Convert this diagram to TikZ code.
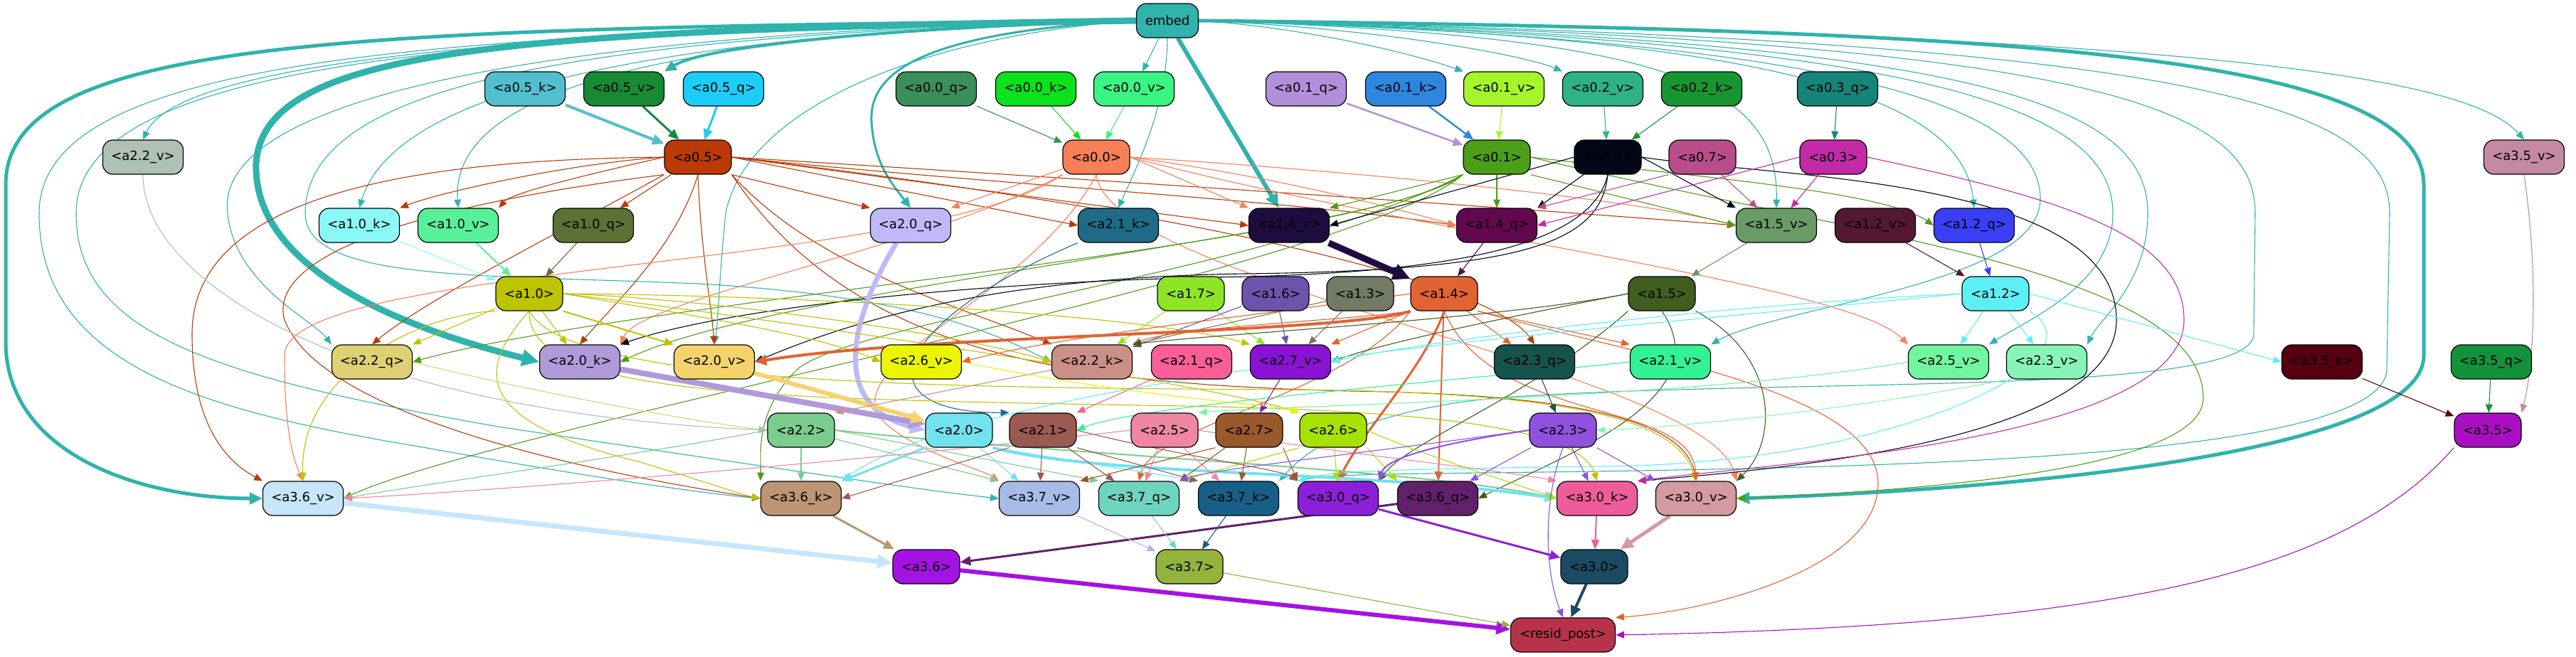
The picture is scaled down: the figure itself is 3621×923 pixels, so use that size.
\documentclass[tikz,border=0pt]{standalone}
\usepackage{fontspec}
\setmainfont{DejaVu Sans}
\usetikzlibrary{arrows.meta,backgrounds}
\definecolor{cembed}{HTML}{2FB3AC}
\definecolor{ca05k}{HTML}{52BFCF}\definecolor{ca05v}{HTML}{178A35}\definecolor{ca05q}{HTML}{1CCEF7}
\definecolor{ca00q}{HTML}{3B8F5A}\definecolor{ca00k}{HTML}{0AE21C}\definecolor{ca00v}{HTML}{3AF584}
\definecolor{ca01q}{HTML}{B18FD9}\definecolor{ca01k}{HTML}{2E86DE}\definecolor{ca01v}{HTML}{A6F52A}
\definecolor{ca02v}{HTML}{2FB386}\definecolor{ca02k}{HTML}{169631}\definecolor{ca03q}{HTML}{168478}
\definecolor{ca22v}{HTML}{AFC1B4}\definecolor{ca05}{HTML}{BC3A05}\definecolor{ca00}{HTML}{F77F56}
\definecolor{ca01}{HTML}{4C9E17}\definecolor{ca02}{HTML}{030717}\definecolor{ca07}{HTML}{B84D8A}
\definecolor{ca03}{HTML}{C32AA8}\definecolor{ca35v}{HTML}{C58AA3}\definecolor{ca10k}{HTML}{8BF8F8}
\definecolor{ca10v}{HTML}{59F09A}\definecolor{ca10q}{HTML}{5A7335}\definecolor{ca20q}{HTML}{C0B8F8}
\definecolor{ca21k}{HTML}{1F6B87}\definecolor{ca14v}{HTML}{1F0C3F}\definecolor{ca14q}{HTML}{62084E}
\definecolor{ca15v}{HTML}{6A9A66}\definecolor{ca12v}{HTML}{541832}\definecolor{ca12q}{HTML}{3A3FF5}
\definecolor{ca10}{HTML}{BDC400}\definecolor{ca17}{HTML}{8EE525}\definecolor{ca16}{HTML}{6E53AD}
\definecolor{ca13}{HTML}{737A65}\definecolor{ca14}{HTML}{E06332}\definecolor{ca15}{HTML}{3F5E1F}
\definecolor{ca12}{HTML}{5EEFF5}\definecolor{ca22q}{HTML}{DFD173}\definecolor{ca20k}{HTML}{B09AD9}
\definecolor{ca20v}{HTML}{F5D36B}\definecolor{ca26v}{HTML}{EBF503}\definecolor{ca22k}{HTML}{C99088}
\definecolor{ca21q}{HTML}{F75F96}\definecolor{ca27v}{HTML}{8A12D3}\definecolor{ca23q}{HTML}{17534D}
\definecolor{ca21v}{HTML}{33F294}\definecolor{ca25v}{HTML}{71F5A0}\definecolor{ca23v}{HTML}{88F5B7}
\definecolor{ca35k}{HTML}{560011}\definecolor{ca35q}{HTML}{12923B}\definecolor{ca22}{HTML}{7ACD8E}
\definecolor{ca20}{HTML}{72E2EF}\definecolor{ca21}{HTML}{9A5A52}\definecolor{ca25}{HTML}{EF87A4}
\definecolor{ca27}{HTML}{9A592A}\definecolor{ca26}{HTML}{A6E205}\definecolor{ca23}{HTML}{9051DE}
\definecolor{ca35}{HTML}{A90FC1}\definecolor{ca36v}{HTML}{C7E6FB}\definecolor{ca36k}{HTML}{BD9572}
\definecolor{ca37v}{HTML}{A6BCE6}\definecolor{ca37q}{HTML}{6FD4BF}\definecolor{ca37k}{HTML}{175F86}
\definecolor{ca30q}{HTML}{8C1FD8}\definecolor{ca36q}{HTML}{62206A}\definecolor{ca30k}{HTML}{EF5C9C}
\definecolor{ca30v}{HTML}{D39B9F}\definecolor{ca36}{HTML}{A412E3}\definecolor{ca37}{HTML}{92B33C}
\definecolor{ca30}{HTML}{1B4B63}\definecolor{crp}{HTML}{B8334A}
\newcommand\N[5]{\node[nd,fill=c#1,#5] (#1) at (#2,-#3) {#4};}
\tikzset{
  nd/.style={draw=black,line width=0.6pt,rounded corners=7pt,minimum height=24pt,minimum width=56.5pt,inner sep=0pt,font=\fontsize{9}{11}\selectfont},
  ns/.style={minimum width=47pt},
  ed/.style={-{Triangle[length=5pt 1.6,width=4pt 1.6]},line width=0.55pt},
}
\begin{document}
\begin{tikzpicture}[x=0.5pt,y=0.5pt]
\useasboundingbox (0,0) rectangle (3621,-923);
% nodes
\N{embed}{1641}{29}{embed}{minimum width=43.5pt}
\N{a05k}{738}{125}{<a0.5\_k>}{}
\N{a05v}{877}{125}{<a0.5\_v>}{}
\N{a05q}{1017}{125}{<a0.5\_q>}{}
\N{a00q}{1316}{125}{<a0.0\_q>}{}
\N{a00k}{1456}{125}{<a0.0\_k>}{}
\N{a00v}{1594}{125}{<a0.0\_v>}{}
\N{a01q}{1836}{125}{<a0.1\_q>}{}
\N{a01k}{1976}{125}{<a0.1\_k>}{}
\N{a01v}{2114}{125}{<a0.1\_v>}{}
\N{a02v}{2253}{125}{<a0.2\_v>}{}
\N{a02k}{2392}{125}{<a0.2\_k>}{}
\N{a03q}{2583}{125}{<a0.3\_q>}{}
\N{a22v}{201}{221}{<a2.2\_v>}{}
\N{a05}{981}{221}{<a0.5>}{ns}
\N{a00}{1541}{221}{<a0.0>}{ns}
\N{a01}{2104}{221}{<a0.1>}{ns}
\N{a02}{2260}{221}{<a0.2>}{ns}
\N{a07}{2393}{221}{<a0.7>}{ns}
\N{a03}{2577}{221}{<a0.3>}{ns}
\N{a35v}{3548}{221}{<a3.5\_v>}{}
\N{a10k}{505}{317}{<a1.0\_k>}{}
\N{a10v}{644}{317}{<a1.0\_v>}{}
\N{a10q}{834}{317}{<a1.0\_q>}{}
\N{a20q}{1280}{317}{<a2.0\_q>}{}
\N{a21k}{1572}{317}{<a2.1\_k>}{}
\N{a14v}{1812}{317}{<a1.4\_v>}{}
\N{a14q}{2104}{317}{<a1.4\_q>}{}
\N{a15v}{2497}{317}{<a1.5\_v>}{}
\N{a12v}{2636}{317}{<a1.2\_v>}{}
\N{a12q}{2775}{317}{<a1.2\_q>}{}
\N{a10}{744}{413}{<a1.0>}{ns}
\N{a17}{1674}{413}{<a1.7>}{ns}
\N{a16}{1793}{413}{<a1.6>}{ns}
\N{a13}{1912}{413}{<a1.3>}{ns}
\N{a14}{2030}{413}{<a1.4>}{ns}
\N{a15}{2336}{413}{<a1.5>}{ns}
\N{a12}{2805}{413}{<a1.2>}{ns}
\N{a22q}{523}{509}{<a2.2\_q>}{}
\N{a20k}{815}{509}{<a2.0\_k>}{}
\N{a20v}{1004}{509}{<a2.0\_v>}{}
\N{a26v}{1295}{509}{<a2.6\_v>}{}
\N{a22k}{1535}{509}{<a2.2\_k>}{}
\N{a21q}{1675}{509}{<a2.1\_q>}{}
\N{a27v}{1814}{509}{<a2.7\_v>}{}
\N{a23q}{2157}{509}{<a2.3\_q>}{}
\N{a21v}{2348}{509}{<a2.1\_v>}{}
\N{a25v}{2739}{509}{<a2.5\_v>}{}
\N{a23v}{2877}{509}{<a2.3\_v>}{}
\N{a35k}{3264}{509}{<a3.5\_k>}{}
\N{a35q}{3502}{509}{<a3.5\_q>}{}
\N{a22}{1126}{605}{<a2.2>}{ns}
\N{a20}{1348}{605}{<a2.0>}{ns}
\N{a21}{1466}{605}{<a2.1>}{ns}
\N{a25}{1637}{605}{<a2.5>}{ns}
\N{a27}{1756}{605}{<a2.7>}{ns}
\N{a26}{1874}{605}{<a2.6>}{ns}
\N{a23}{2197}{605}{<a2.3>}{ns}
\N{a35}{3497}{605}{<a3.5>}{ns}
\N{a36v}{426}{701}{<a3.6\_v>}{}
\N{a36k}{1126}{701}{<a3.6\_k>}{}
\N{a37v}{1461}{701}{<a3.7\_v>}{}
\N{a37q}{1601}{701}{<a3.7\_q>}{}
\N{a37k}{1741}{701}{<a3.7\_k>}{}
\N{a30q}{1881}{701}{<a3.0\_q>}{}
\N{a36q}{2021}{701}{<a3.6\_q>}{}
\N{a30k}{2245}{701}{<a3.0\_k>}{}
\N{a30v}{2384}{701}{<a3.0\_v>}{}
\N{a36}{1302}{797}{<a3.6>}{ns}
\N{a37}{1672}{797}{<a3.7>}{ns}
\N{a30}{2241}{797}{<a3.0>}{ns}
\N{rp}{2197}{893}{<resid\_post>}{minimum width=73.5pt}
\begin{pgfonlayer}{background}
\fill[white] (0,0) rectangle (3621,-923);
% ---- embed edges
\draw[ed,cembed,line width=2pt] (embed.west) .. controls (1300,-38) and (1000,-60) .. (a05v.north east);
\draw[ed,cembed,line width=4.5pt] (embed.west) .. controls (700,-42) and (370,-70) .. (360,-230) .. controls (355,-390) and (600,-470) .. (a20k.west);
\draw[ed,cembed,line width=2.5pt] (embed.west) .. controls (500,-40) and (8,-50) .. (8,-260) -- (8,-480) .. controls (8,-640) and (200,-701) .. (a36v.west);
\draw[ed,cembed,line width=2.5pt] (embed.east) .. controls (2800,-42) and (3407,-70) .. (3407,-260) -- (3407,-500) .. controls (3407,-640) and (2800,-690) .. (a30v.east);
\draw[ed,cembed,line width=3pt] (embed) -- (a14v);
\draw[ed,cembed,line width=1.5pt] (embed.west) .. controls (1300,-45) and (1222,-100) .. (1225,-170) .. controls (1228,-230) and (1255,-260) .. (a20q.north);
\draw[ed,cembed] (embed) -- (a00v);
\draw[ed,cembed] (embed.south) .. controls (1640,-150) and (1600,-230) .. (a21k.north);
\draw[ed,cembed] (embed.east) .. controls (1850,-40) and (2000,-80) .. (a01v.north west);
\draw[ed,cembed] (embed.east) .. controls (1950,-40) and (2150,-80) .. (a02v.north west);
\draw[ed,cembed] (embed.east) .. controls (2350,-50) and (2500,-120) .. (a15v.north);
\draw[ed,cembed] (embed.east) .. controls (2550,-50) and (2760,-150) .. (a12q.north);
\draw[ed,cembed] (embed.east) .. controls (3200,-45) and (3480,-120) .. (a35v.north);
\draw[ed,cembed] (embed.west) .. controls (900,-40) and (260,-70) .. (a22v.north);
\draw[ed,cembed] (embed.west) .. controls (1000,-45) and (560,-110) .. (a10k.north);
\draw[ed,cembed] (embed.west) .. controls (1100,-45) and (630,-90) .. (a10v.north);
\draw[ed,cembed] (embed.west) .. controls (700,-45) and (300,-150) .. (320,-300) .. controls (330,-400) and (440,-450) .. (a22q.north west);
\draw[ed,cembed] (embed.west) .. controls (800,-50) and (430,-120) .. (429,-300) .. controls (430,-400) and (700,-385) .. (1000,-400) .. controls (1300,-420) and (1400,-470) .. (a22k.west);
\draw[ed,cembed] (embed.west) .. controls (1300,-50) and (1050,-150) .. (1020,-300) .. controls (1010,-400) and (1010,-450) .. (a20v.north);
\draw[ed,cembed] (embed.west) .. controls (600,-45) and (55,-80) .. (55,-300) .. controls (55,-520) and (300,-580) .. (600,-630) .. controls (850,-675) and (1000,-695) .. (a36k.west);
\draw[ed,cembed] (embed.west) .. controls (700,-45) and (107,-80) .. (107,-300) .. controls (107,-470) and (300,-530) .. (700,-600) .. controls (1100,-660) and (1300,-690) .. (a37v.west);
\draw[ed,cembed] (embed.east) .. controls (2600,-55) and (2868,-150) .. (2868,-280) .. controls (2868,-400) and (2500,-430) .. (a21v.north east);
\draw[ed,cembed] (embed.east) .. controls (2700,-55) and (2970,-150) .. (2970,-300) .. controls (2970,-400) and (2850,-450) .. (a25v.north east);
\draw[ed,cembed] (embed.east) .. controls (2800,-55) and (3019,-150) .. (3019,-300) .. controls (3019,-400) and (2950,-450) .. (a23v.north east);
\draw[ed,cembed] (embed.east) .. controls (2950,-55) and (3170,-150) .. (3170,-300) -- (3168,-470) .. controls (3165,-560) and (2500,-530) .. (2100,-560) .. controls (1900,-580) and (1830,-640) .. (a37k.north east);
\draw[ed,cembed] (embed.east) .. controls (3100,-55) and (3359,-150) .. (3359,-300) -- (3355,-520) .. controls (3350,-640) and (2700,-655) .. (2300,-662) .. controls (2000,-667) and (1880,-665) .. (a30q.north west);
% ---- row1 -> row2
\draw[ed,ca05k,line width=2pt] (a05k) -- (a05);
\draw[ed,ca05v,line width=1.5pt] (a05v) -- (a05);
\draw[ed,ca05q,line width=1.5pt] (a05q) -- (a05);
\draw[ed,ca00q] (a00q) -- (a00);
\draw[ed,ca00k] (a00k) -- (a00);
\draw[ed,ca00v] (a00v) -- (a00);
\draw[ed,ca01q,line width=1.2pt] (a01q) -- (a01);
\draw[ed,ca01k,line width=1.2pt] (a01k) -- (a01);
\draw[ed,ca01v] (a01v) -- (a01);
\draw[ed,ca02v] (a02v) -- (a02);
\draw[ed,ca02k] (a02k) -- (a02);
\draw[ed,ca03q] (a03q) -- (a03);
% ---- a0.5
\draw[ed,ca05] (a05.west) .. controls (800,-230) and (620,-270) .. (a10k.north east);
\draw[ed,ca05] (a05.west) .. controls (850,-240) and (720,-270) .. (a10v.north east);
\draw[ed,ca05] (a05) -- (a10q);
\draw[ed,ca05] (a05.south east) -- (a20q.north west);
\draw[ed,ca05] (a05.east) -- (a21k.west);
\draw[ed,ca05] (a05.east) -- (a14v.west);
\draw[ed,ca05] (a05.east) .. controls (1400,-260) and (1800,-280) .. (a14q.west);
\draw[ed,ca05] (a05.east) .. controls (1500,-250) and (2100,-290) .. (a15v.west);
\draw[ed,ca05] (a05.south west) .. controls (800,-320) and (600,-420) .. (a22q.north);
\draw[ed,ca05] (a05.south) .. controls (950,-350) and (860,-430) .. (a20k.north);
\draw[ed,ca05] (a05.south) .. controls (985,-350) and (1000,-430) .. (a20v.north);
\draw[ed,ca05] (a05.west) .. controls (500,-225) and (270,-300) .. (270,-470) .. controls (270,-600) and (320,-650) .. (a36v.north west);
\draw[ed,ca05] (a05.south west) .. controls (500,-300) and (380,-380) .. (400,-450) .. controls (450,-580) and (800,-660) .. (a36k.west);
\draw[ed,ca05] (a05.south east) .. controls (1150,-380) and (1350,-430) .. (a22k.north west);
\draw[ed,ca05] (a05.east) .. controls (1700,-300) and (2100,-400) .. (a23q.north);
\draw[ed,ca05] (a05.south east) .. controls (1200,-500) and (1500,-540) .. (1900,-550) .. controls (2250,-555) and (2370,-600) .. (a30v.north);
% ---- a0.0
\draw[ed,ca00] (a00) -- (a20q.north east);
\draw[ed,ca00] (a00.east) -- (a14v.north west);
\draw[ed,ca00] (a00.east) .. controls (1800,-250) and (1950,-290) .. (a14q.west);
\draw[ed,ca00] (a00.east) .. controls (1900,-240) and (2300,-280) .. (a15v.west);
\draw[ed,ca00] (a00.south west) .. controls (1300,-350) and (900,-420) .. (a20k.north east);
\draw[ed,ca00] (a00.south west) .. controls (1300,-380) and (400,-370) .. (400,-500) .. controls (400,-600) and (410,-640) .. (a36v.north);
\draw[ed,ca00] (a00.east) .. controls (2000,-330) and (2600,-400) .. (a25v.north west);
\draw[ed,ca00] (a00.south) .. controls (1560,-400) and (2400,-520) .. (a30v.north east);
\draw[ed,ca00] (a00.south) .. controls (1450,-420) and (1150,-520) .. (1250,-600) .. controls (1300,-640) and (1380,-660) .. (a37v.north west);
% ---- a0.1
\draw[ed,ca01] (a01.south west) -- (a14v.north east);
\draw[ed,ca01] (a01) -- (a14q);
\draw[ed,ca01] (a01.south east) -- (a15v.west);
\draw[ed,ca01] (a01.east) .. controls (2400,-250) and (2650,-270) .. (a12q.west);
\draw[ed,ca01] (a01.south west) .. controls (1950,-330) and (1100,-400) .. (a20k.east);
\draw[ed,ca01] (a01.south west) .. controls (1900,-350) and (900,-420) .. (a22q.east);
\draw[ed,ca01] (a01.south west) .. controls (1900,-380) and (700,-600) .. (a36v.east);
\draw[ed,ca01] (a01.south west) .. controls (1800,-380) and (1200,-450) .. (1120,-520) .. controls (1060,-580) and (1070,-640) .. (a36k.north west);
\draw[ed,ca01] (a01.east) .. controls (2600,-330) and (3097,-380) .. (3097,-560) .. controls (3097,-660) and (2700,-690) .. (a30v.east);
% ---- a0.2
\draw[ed,ca02] (a02.west) -- (a14v.east);
\draw[ed,ca02] (a02) -- (a14q.north east);
\draw[ed,ca02] (a02.east) -- (a15v.north west);
\draw[ed,ca02] (a02.south) .. controls (2240,-330) and (2100,-385) .. (1700,-390) .. controls (1300,-400) and (1000,-440) .. (a20k.north east);
\draw[ed,ca02] (a02.south) .. controls (2250,-340) and (2150,-380) .. (1750,-385) .. controls (1400,-390) and (1200,-450) .. (a20v.east);
\draw[ed,ca02] (a02.east) .. controls (2500,-250) and (2975,-250) .. (2975,-450) .. controls (2975,-620) and (2500,-660) .. (a30k.north east);
% ---- a0.3, a0.7
\draw[ed,ca03] (a03) -- (a15v);
\draw[ed,ca03] (a03.west) -- (a14q.east);
\draw[ed,ca03] (a03.east) .. controls (2900,-280) and (3070,-330) .. (3070,-450) .. controls (3070,-620) and (2500,-650) .. (a30k.north east);
\draw[ed,ca07] (a07) -- (a15v);
\draw[ed,ca07] (a07.south west) -- (a14q.north east);
% ---- row3 -> row4
\draw[ed,ca10k] (a10k) -- (a10);
\draw[ed,ca10v,line width=1pt] (a10v) -- (a10);
\draw[ed,ca10q] (a10q) -- (a10);
\draw[ed,ca14v,line width=4.5pt] (a14v) -- (a14);
\draw[ed,ca14q] (a14q) -- (a14);
\draw[ed,ca15v] (a15v) -- (a15);
\draw[ed,ca12v] (a12v) -- (a12);
\draw[ed,ca12q] (a12q) -- (a12);
\draw[ed,ca20q,line width=3.5pt] ([xshift=-10pt]a20q.south) .. controls (1200,-440) and (1160,-570) .. (a20.west);
\draw[ed,ca21k] (a21k.south west) .. controls (1260,-450) and (1200,-580) .. (a21.north west);
% ---- a1.0
\draw[ed,ca10] (a10) -- (a22q.north east);
\draw[ed,ca10] (a10) -- (a20k);
\draw[ed,ca10,line width=1pt] (a10.south east) -- (a20v.north west);
\draw[ed,ca10] (a10.east) .. controls (950,-440) and (1150,-470) .. (a26v.west);
\draw[ed,ca10] (a10.east) .. controls (1000,-420) and (1350,-470) .. (a22k.west);
\draw[ed,ca10] (a10.east) .. controls (1100,-415) and (1600,-440) .. (a27v.north west);
\draw[ed,ca10] (a10.south west) .. controls (600,-440) and (420,-520) .. (a36v.north);
\draw[ed,ca10] (a10.south) .. controls (650,-540) and (700,-600) .. (900,-650) .. controls (1000,-680) and (1040,-695) .. (a36k.west);
\draw[ed,ca10] (a10.south) .. controls (740,-560) and (1100,-560) .. (1600,-570) .. controls (2000,-575) and (2220,-600) .. (a30k.north);
\draw[ed,ca10] (a10.south) .. controls (800,-540) and (1300,-545) .. (1800,-548) .. controls (2250,-550) and (2360,-600) .. (a30v.north);
\draw[ed,ca10] (a10.east) .. controls (1100,-450) and (1700,-540) .. (a26.north west);
% ---- a1.7 a1.6 a1.3
\draw[ed,ca17] (a17) -- (a22k);
\draw[ed,ca17] (a17) -- (a27v);
\draw[ed,ca16] (a16) -- (a22k);
\draw[ed,ca16] (a16) -- (a27v);
\draw[ed,ca13] (a13) -- (a22k.north east);
\draw[ed,ca13] (a13) -- (a27v);
% ---- a1.4
\draw[ed,ca14,line width=2pt] (a14.south west) .. controls (1880,-470) and (1300,-470) .. (a20v.east);
\draw[ed,ca14,line width=1.5pt] (a14.south) .. controls (2000,-520) and (1920,-600) .. (a30q.north);
\draw[ed,ca14,line width=1pt] (a14) -- (a36q);
\draw[ed,ca14] (a14.south west) -- (a27v.north east);
\draw[ed,ca14] (a14) -- (a23q);
\draw[ed,ca14] (a14.south east) -- (a21v.north west);
\draw[ed,ca14] (a14.west) .. controls (1800,-440) and (1500,-470) .. (a26v.east);
\draw[ed,ca14] (a14.south west) .. controls (1900,-450) and (1650,-460) .. (a22k.north east);
\draw[ed,ca14] (a14.south east) .. controls (2300,-500) and (2640,-550) .. (2640,-680) .. controls (2640,-800) and (2400,-860) .. (rp.north east);
\draw[ed,ca14] (a14.south west) .. controls (1900,-550) and (1620,-600) .. (a37q.north);
\draw[ed,ca14] (a14.south) .. controls (2100,-600) and (2380,-560) .. (a30v.north);
% ---- a1.5
\draw[ed,ca15] (a15.west) .. controls (2150,-440) and (1950,-480) .. (a27v.east);
\draw[ed,ca15] (a15.west) .. controls (2100,-450) and (1700,-470) .. (a22k.north east);
\draw[ed,ca15] (a15.south west) .. controls (2150,-560) and (1980,-620) .. (a30q.north east);
\draw[ed,ca15] (a15.south) .. controls (2420,-560) and (2200,-640) .. (a36q.east);
\draw[ed,ca15] (a15.south east) .. controls (2500,-500) and (2500,-620) .. (a30v.north east);
% ---- a1.2
\draw[ed,ca12] (a12) -- (a25v);
\draw[ed,ca12] (a12) -- (a23v);
\draw[ed,ca12] (a12.east) -- (a35k.west);
\draw[ed,ca12] (a12.west) .. controls (2400,-430) and (2000,-480) .. (a27v.east);
\draw[ed,ca12] (a12.west) .. controls (2300,-460) and (1400,-520) .. (a36k.north east);
\draw[ed,ca12] (a12.south east) .. controls (2960,-500) and (2700,-640) .. (2300,-655) .. controls (2000,-660) and (1880,-660) .. (a30q.north west);
% ---- row5 -> row6
\draw[ed,ca20k,line width=4pt] (a20k) -- (a20);
\draw[ed,ca20v,line width=3pt] (a20v) -- (a20);
\draw[ed,ca22q] (a22q.east) .. controls (700,-540) and (950,-590) .. (a22.west);
\draw[ed,ca22v] (a22v.south) .. controls (200,-400) and (500,-580) .. (a22.west);
\draw[ed,ca22k] (a22k) -- (a22.north east);
\draw[ed,ca21q] (a21q) -- (a21.north east);
\draw[ed,ca21v] (a21v.west) .. controls (2000,-540) and (1600,-570) .. (a21.east);
\draw[ed,ca25v] (a25v.west) .. controls (2400,-560) and (1800,-570) .. (a25.north east);
\draw[ed,ca27v] (a27v) -- (a27);
\draw[ed,ca26v] (a26v.east) .. controls (1600,-560) and (1800,-570) .. (a26.north west);
\draw[ed,ca23q] (a23q) -- (a23);
\draw[ed,ca23v] (a23v.south west) .. controls (2700,-560) and (2400,-600) .. (a23.east);
\draw[ed,ca35k] (a35k) -- (a35);
\draw[ed,ca35q] (a35q) -- (a35);
\draw[ed,ca35v] (a35v.south) .. controls (3570,-400) and (3560,-520) .. (a35.north east);
% ---- row6 -> row7
\draw[ed,ca22] (a22) -- (a36k);
\draw[ed,ca22] (a22) -- (a37v.north west);
\draw[ed,ca22] (a22.east) -- (a37q.north west);
\draw[ed,ca22] (a22.west) .. controls (900,-640) and (600,-680) .. (a36v.east);
\draw[ed,ca22,line width=1pt] (a22.east) .. controls (1500,-640) and (2000,-660) .. (a30k.west);
\draw[ed,ca20,line width=1.5pt] (a20.south west) -- (a36k.north east);
\draw[ed,ca20] (a20) -- (a37v);
\draw[ed,ca20,line width=2pt] (a20.south east) .. controls (1550,-670) and (1900,-660) .. (a30k.west);
\draw[ed,ca20] (a20.south east) -- (a37k.north west);
\draw[ed,ca21] (a21.south west) -- (a36k.east);
\draw[ed,ca21] (a21) -- (a37v);
\draw[ed,ca21] (a21) -- (a37q);
\draw[ed,ca21] (a21.south east) -- (a37k.north west);
\draw[ed,ca21] (a21.east) .. controls (1650,-640) and (1800,-660) .. (a30q.north west);
\draw[ed,ca25] (a25.west) .. controls (1200,-650) and (700,-690) .. (a36v.east);
\draw[ed,ca25] (a25) -- (a37q);
\draw[ed,ca25] (a25) -- (a37k);
\draw[ed,ca25] (a25.east) .. controls (1900,-640) and (2100,-660) .. (a30k.north west);
\draw[ed,ca27] (a27) -- (a37q.north east);
\draw[ed,ca27] (a27) -- (a37k);
\draw[ed,ca27] (a27.south east) -- (a30q.north west);
\draw[ed,ca27] (a27.south west) -- (a37v.north east);
\draw[ed,ca26] (a26) -- (a30q);
\draw[ed,ca26] (a26.south east) -- (a36q.north west);
\draw[ed,ca26] (a26.east) .. controls (2000,-640) and (2100,-670) .. (a30k.west);
\draw[ed,ca26] (a26.south west) -- (a37q.north east);
\draw[ed,ca23,line width=1pt] (a23.west) .. controls (2050,-620) and (1950,-640) .. (a30q.north east);
\draw[ed,ca23] (a23) -- (a36q);
\draw[ed,ca23] (a23) -- (a30k);
\draw[ed,ca23] (a23.south east) -- (a30v.north west);
\draw[ed,ca23] (a23.south) .. controls (2170,-700) and (2170,-800) .. (rp.north);
\draw[ed,ca23] (a23.west) .. controls (1900,-640) and (1700,-660) .. (a37q.north east);
% ---- row7 -> row8 -> row9
\draw[ed,ca36v,line width=3.5pt] (a36v) -- (a36);
\draw[ed,ca36k,line width=1.5pt] (a36k) -- (a36);
\draw[ed,ca36q,line width=1.5pt] (a36q) -- (a36);
\draw[ed,ca37v] (a37v) -- (a37);
\draw[ed,ca37q] (a37q) -- (a37);
\draw[ed,ca37k] (a37k) -- (a37);
\draw[ed,ca30q,line width=1.5pt] (a30q) -- (a30);
\draw[ed,ca30k,line width=1pt] (a30k) -- (a30);
\draw[ed,ca30v,line width=2.5pt] (a30v) -- (a30);
\draw[ed,ca36,line width=3pt] (a36) -- (rp);
\draw[ed,ca30,line width=2pt] (a30) -- (rp);
\draw[ed,ca37] (a37) -- (rp);
\draw[ed,ca35] (a35.south west) .. controls (3300,-800) and (3000,-880) .. (rp.east);
\end{pgfonlayer}
\end{tikzpicture}
\end{document}
